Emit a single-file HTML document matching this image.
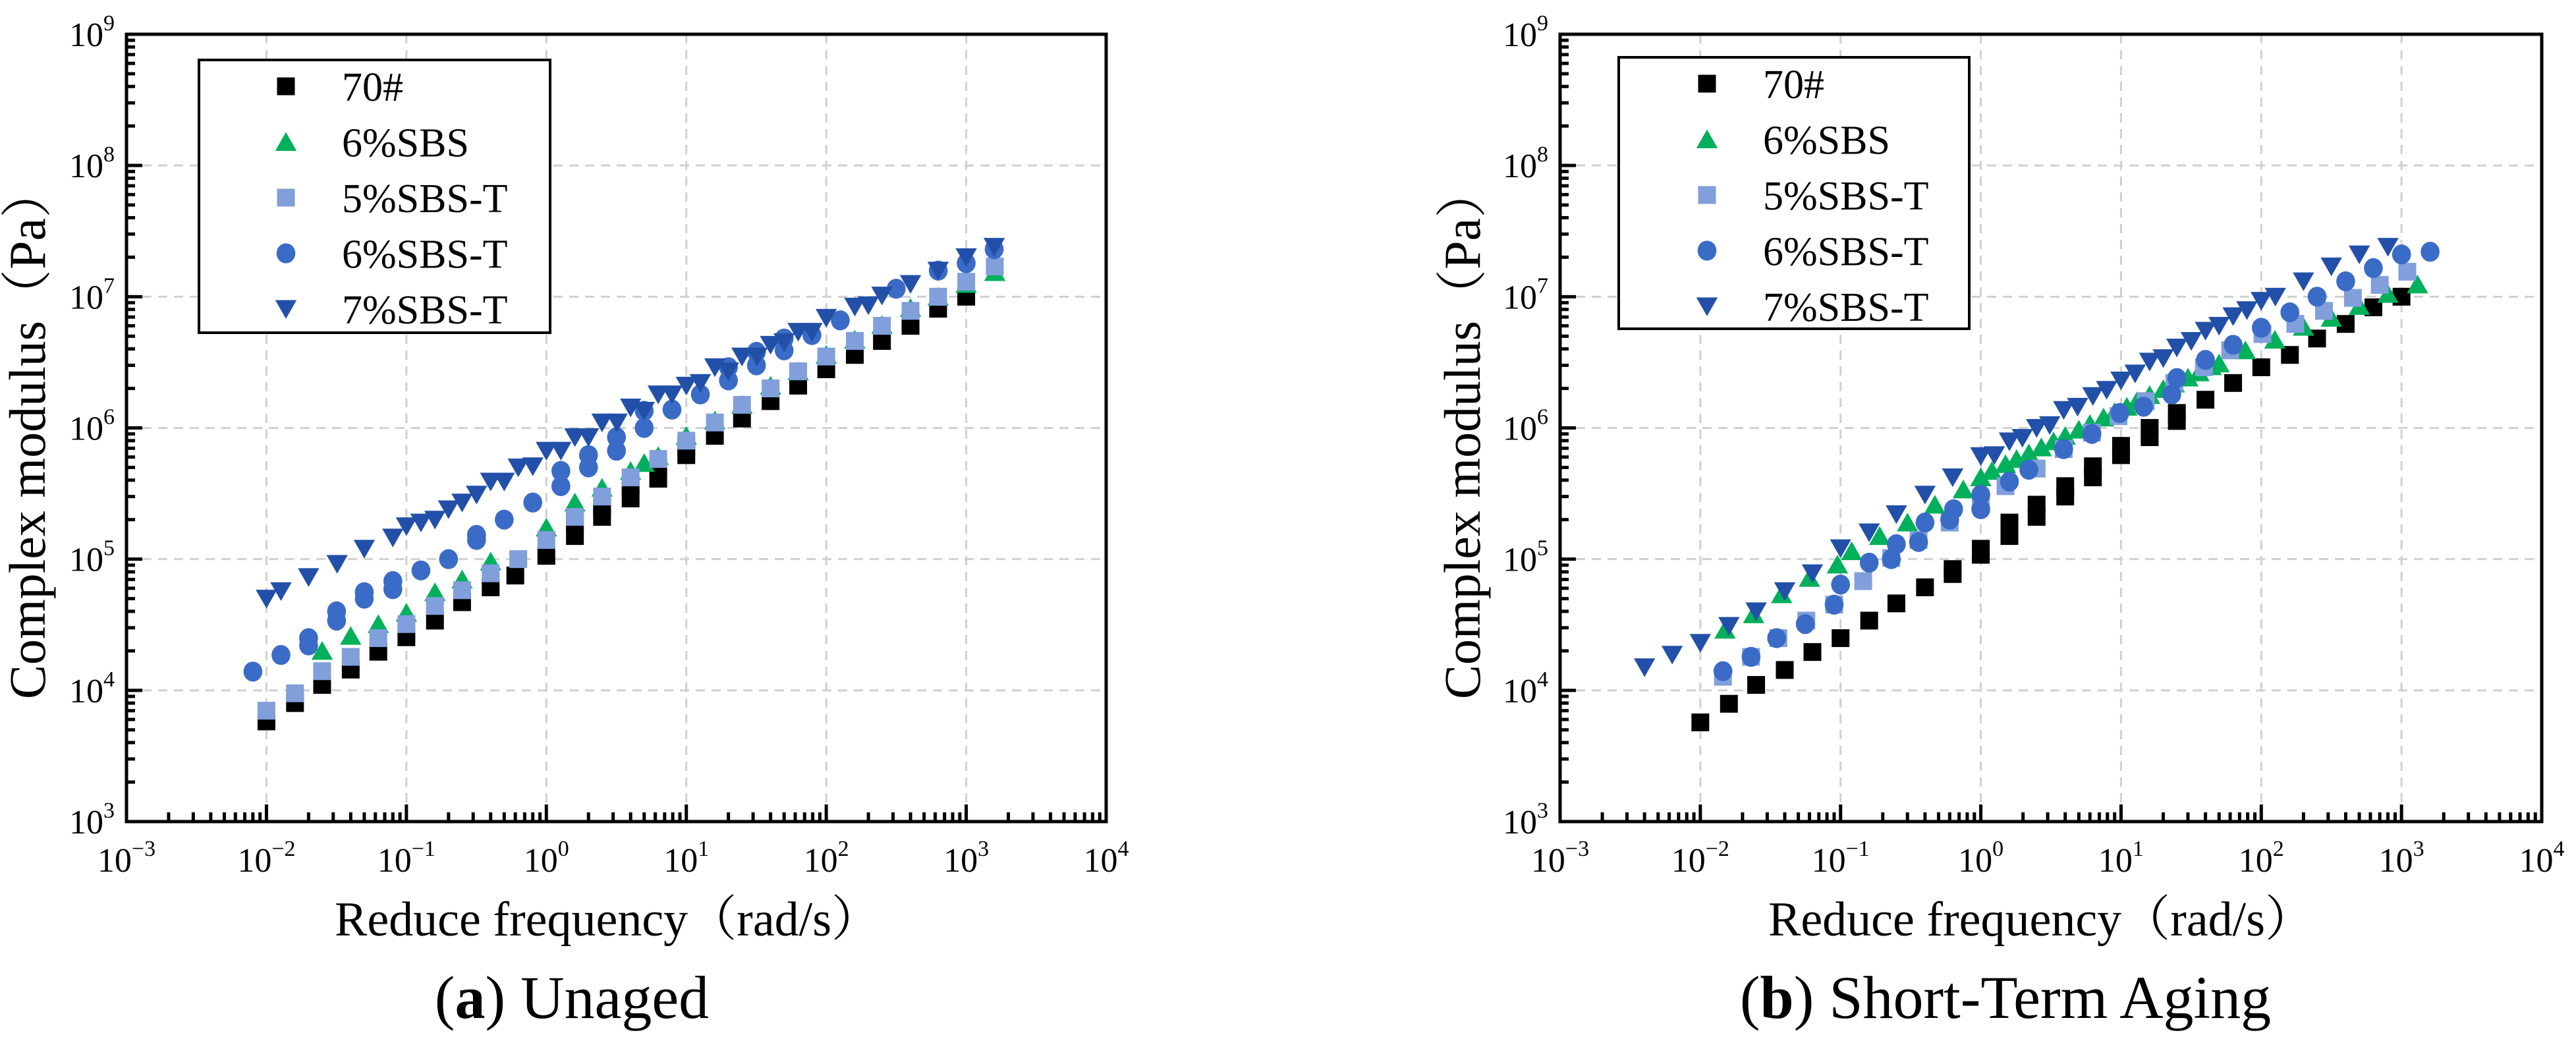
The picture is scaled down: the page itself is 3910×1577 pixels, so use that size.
<!DOCTYPE html>
<html><head><meta charset="utf-8">
<style>
html,body{margin:0;padding:0;background:#fff;}
svg{display:block;}
text{font-family:"Liberation Serif","Noto Serif CJK SC",serif;fill:#000;}
</style></head>
<body>
<svg id="fig" width="3910" height="1577" viewBox="0 0 3910 1577" xmlns="http://www.w3.org/2000/svg">
<g id="panelA"></g>
<g id="panelB"></g>
</svg>
<script>
// ---------- Data ----------
const seriesNames = ["70#","6%SBS","5%SBS-T","6%SBS-T","7%SBS-T"];
const xTickExp = [-3,-2,-1,0,1,2,3,4];
const yTickExp = [3,4,5,6,7,8,9];

// Panel (a) Unaged
const a70x = [0.01,0.016,0.025,0.04,0.063,0.1,0.16,0.25,0.4,0.6,1,1.6,1.6,2.5,2.5,4,4,6.3,6.3,10,10,16,25,40,63,100,160,250,400,400,630,1000];
const a70y = [5.8e3,8.0e3,1.1e4,1.44e4,1.97e4,2.54e4,3.4e4,4.7e4,6.1e4,7.5e4,1.06e5,1.5e5,1.9e5,2.1e5,2.5e5,2.9e5,3.6e5,4.1e5,5.0e5,6.2e5,7.2e5,8.7e5,1.18e6,1.6e6,2.1e6,2.8e6,3.6e6,4.6e6,6.0e6,6.5e6,8.1e6,1.0e7];
const aSBSx = [0.025,0.04,0.063,0.1,0.16,0.25,0.4,1,1.6,2.5,4,5,6.3,10,16,25,40,63,100,160,250,400,630,1000,1600];
const aSBSy = [2.0e4,2.6e4,3.2e4,3.9e4,5.6e4,7.0e4,9.6e4,1.74e5,2.7e5,3.5e5,4.7e5,5.4e5,6.1e5,8.7e5,1.14e6,1.5e6,2.1e6,2.7e6,3.6e6,4.7e6,6.1e6,8.2e6,1.0e7,1.25e7,1.54e7];
const a5Tx = [0.01,0.016,0.025,0.04,0.063,0.1,0.16,0.25,0.4,0.63,1,1.6,2.5,4,6.3,10,16,25,40,63,100,160,250,400,630,1000,1600];
const a5Ty = [7.0e3,9.5e3,1.4e4,1.8e4,2.5e4,3.2e4,4.4e4,5.8e4,7.8e4,1.0e5,1.4e5,2.1e5,3.0e5,4.2e5,5.8e5,8.0e5,1.1e6,1.5e6,2.0e6,2.7e6,3.5e6,4.6e6,6.0e6,7.8e6,1.0e7,1.3e7,1.7e7];
const a6Tx = [0.008,0.0127,0.02,0.02,0.0317,0.0317,0.05,0.05,0.08,0.08,0.127,0.2,0.317,0.317,0.5,0.8,1.27,1.27,2,2,3.17,3.17,5,5,7.9,12.6,20,20,31.7,31.7,50,50,79,126,316,631,1000,1585];
const a6Ty = [1.39e4,1.86e4,2.5e4,2.2e4,4.0e4,3.4e4,5.6e4,5.0e4,6.8e4,5.9e4,8.2e4,1.0e5,1.53e5,1.4e5,2.0e5,2.7e5,4.7e5,3.6e5,6.2e5,5.0e5,8.5e5,6.7e5,1.35e6,1.0e6,1.38e6,1.8e6,2.3e6,2.9e6,3.8e6,3.0e6,4.8e6,3.9e6,5.1e6,6.6e6,1.15e7,1.58e7,1.8e7,2.3e7];
const a7Tx = [0.01,0.0127,0.02,0.032,0.05,0.08,0.1,0.127,0.16,0.2,0.25,0.317,0.4,0.5,0.63,0.8,1,1.27,1.6,2,2.5,3.2,4,5,6.3,7.9,10,12.6,16,20,25,32,40,50,63,79,100,160,200,250,400,630,1000,1585];
const a7Ty = [5.0e4,5.7e4,7.3e4,9.2e4,1.2e5,1.46e5,1.78e5,1.9e5,2.0e5,2.4e5,2.7e5,3.1e5,3.9e5,3.9e5,5.0e5,5.1e5,6.7e5,6.7e5,8.5e5,8.5e5,1.1e6,1.1e6,1.43e6,1.35e6,1.8e6,1.8e6,2.1e6,2.2e6,2.9e6,2.7e6,3.5e6,3.5e6,4.3e6,4.5e6,5.4e6,5.4e6,6.9e6,8.4e6,8.6e6,1.02e7,1.25e7,1.58e7,2.0e7,2.4e7];

// Panel (b) Short-term aging
const b70x = [0.01,0.016,0.025,0.04,0.063,0.1,0.16,0.25,0.4,0.63,0.63,1,1,1.6,1.6,2.5,2.5,4,4,6.3,6.3,10,10,16,16,25,25,40,63,100,160,250,400,630,1000];
const b70y = [5.7e3,7.9e3,1.1e4,1.43e4,1.96e4,2.5e4,3.4e4,4.6e4,6.1e4,7.7e4,8.4e4,1.08e5,1.2e5,1.5e5,1.9e5,2.1e5,2.6e5,3.0e5,3.6e5,4.2e5,5.1e5,6.2e5,7.3e5,8.5e5,1.0e6,1.13e6,1.3e6,1.64e6,2.2e6,2.9e6,3.6e6,4.8e6,6.2e6,8.3e6,1.0e7];
const bSBSx = [0.015,0.024,0.038,0.06,0.095,0.12,0.19,0.3,0.47,0.75,1,1.2,1.5,1.8,2.2,2.7,3.3,4,5,6,7.5,9,11,13,16,20,24,30,36,44,50,77,125,200,316,500,800,1300];
const bSBSy = [2.9e4,3.8e4,5.4e4,7.2e4,9.1e4,1.15e5,1.5e5,1.9e5,2.6e5,3.4e5,4.2e5,4.7e5,5.3e5,5.8e5,6.4e5,7.1e5,7.9e5,8.7e5,9.7e5,1.07e6,1.2e6,1.32e6,1.45e6,1.6e6,1.78e6,1.98e6,2.18e6,2.42e6,2.65e6,2.95e6,3.1e6,3.9e6,4.7e6,5.9e6,6.9e6,8.5e6,1.05e7,1.24e7];
const b5Tx = [0.0145,0.023,0.036,0.057,0.09,0.145,0.23,0.36,0.6,1,1.5,2.5,3.9,6.2,9.6,15,24,39,60,102,175,280,450,700,1100];
const b5Ty = [1.27e4,1.8e4,2.5e4,3.4e4,4.5e4,6.8e4,1.02e5,1.4e5,1.9e5,2.7e5,3.6e5,4.9e5,6.9e5,9.2e5,1.23e6,1.6e6,2.2e6,2.9e6,3.9e6,5.2e6,6.2e6,7.8e6,9.8e6,1.23e7,1.55e7];
const b6Tx = [0.0145,0.023,0.035,0.056,0.09,0.1,0.16,0.23,0.25,0.36,0.4,0.6,0.64,1,1,1.6,2.2,3.9,6.2,9.8,14.5,23,25,40,63,100,160,250,400,630,1000,1600];
const b6Ty = [1.4e4,1.8e4,2.5e4,3.2e4,4.5e4,6.4e4,9.4e4,1.0e5,1.3e5,1.35e5,1.9e5,2.0e5,2.4e5,2.4e5,3.1e5,3.9e5,4.8e5,6.9e5,9.0e5,1.3e6,1.45e6,1.8e6,2.4e6,3.3e6,4.3e6,5.8e6,7.6e6,1.0e7,1.31e7,1.65e7,2.1e7,2.2e7];
const b7Tx = [0.004,0.0063,0.01,0.016,0.025,0.04,0.063,0.1,0.16,0.25,0.4,0.63,1,1.25,1.6,1.98,2.5,3.1,3.9,4.9,6.3,7.9,10,12.6,16,20,25,31.7,40,50,63,79,100,126,200,316,500,800];
const b7Ty = [1.5e4,1.87e4,2.3e4,3.1e4,4.0e4,5.7e4,7.8e4,1.21e5,1.6e5,2.2e5,3.1e5,4.2e5,6.1e5,6.2e5,7.9e5,8.4e5,1.0e6,1.05e6,1.37e6,1.45e6,1.75e6,1.95e6,2.3e6,2.6e6,3.2e6,3.4e6,4.1e6,4.6e6,5.5e6,6.0e6,7.1e6,7.9e6,9.3e6,1.0e7,1.31e7,1.7e7,2.1e7,2.4e7];

// ---------- Drawing ----------
const NS = "http://www.w3.org/2000/svg";
const colors = ["#000000","#00b05a","#809fdb","#3a6bc6","#2250a8"];
const shapes = ["square","triangle","square","circle","invtriangle"];

function mk(tag, attrs, parent){
  const e = document.createElementNS(NS, tag);
  for (const k in attrs) e.setAttribute(k, attrs[k]);
  parent.appendChild(e);
  return e;
}
function drawMarker(g, shape, cx, cy, color, s){
  let e;
  if (shape === "square") e = mk("rect",{x:cx-s/2,y:cy-s/2,width:s,height:s,fill:color},g);
  else if (shape === "circle") e = mk("ellipse",{cx:cx,cy:cy,rx:s*0.53,ry:s*0.56,fill:color},g);
  else if (shape === "triangle") e = mk("polygon",{points:`${cx-s*0.6},${cy+s*0.5} ${cx+s*0.6},${cy+s*0.5} ${cx},${cy-s*0.55}`,fill:color},g);
  else e = mk("polygon",{points:`${cx-s*0.6},${cy-s*0.5} ${cx+s*0.6},${cy-s*0.5} ${cx},${cy+s*0.55}`,fill:color},g);
  return e;
}

function drawPanel(root, cfg, data){
  const {x0,x1,y0,y1} = cfg;
  const xs = v => x0 + (Math.log10(v) - (-3)) / 7 * (x1 - x0);
  const ys = v => y1 - (Math.log10(v) - 3) / 6 * (y1 - y0);

  const grid = mk("g",{},root);
  
  
  xTickExp.slice(1,-1).forEach(e=>{
    const x = xs(Math.pow(10,e));
    mk("line",{x1:x,x2:x,y1:y0,y2:y1,stroke:"#d0d0d0","stroke-width":3,"stroke-dasharray":"14 10"},grid);
  });
  yTickExp.slice(1,-1).forEach(e=>{
    const y = ys(Math.pow(10,e));
    mk("line",{x1:x0,x2:x1,y1:y,y2:y,stroke:"#d0d0d0","stroke-width":3,"stroke-dasharray":"14 10"},grid);
  });

  data.forEach((sd, si)=>{
    const g = mk("g",{},root);
    
    
    sd.x.forEach((xv,i)=>{
      const m = drawMarker(g, shapes[si], xs(xv), ys(sd.y[i]), colors[si], 27);
      
      
    });
  });

  const ticks = mk("g",{stroke:"#000","stroke-width":5},root);
  
  
  for (let e=-3;e<4;e++){
    for (let m=1;m<10;m++){
      const x = xs(m*Math.pow(10,e));
      const L = m===1?26:14;
      if (m===1 && e===-3) continue;
      mk("line",{x1:x,x2:x,y1:y1,y2:y1-L},ticks);
    }
  }
  for (let e=3;e<9;e++){
    for (let m=1;m<10;m++){
      const y = ys(m*Math.pow(10,e));
      const L = m===1?24:13;
      if (m===1 && e===3) continue;
      mk("line",{x1:x0,x2:x0+L,y1:y,y2:y},ticks);
    }
  }

  const fr = mk("rect",{x:x0,y:y0,width:x1-x0,height:y1-y0,fill:"none",stroke:"#000","stroke-width":5},root);
  
  

  xTickExp.forEach(e=>{
    const t = mk("text",{x:xs(Math.pow(10,e)),y:y1+76,"font-size":52,"text-anchor":"middle"},root);
    
    
    t.textContent = "10";
    const sup = mk("tspan",{"font-size":34,dy:-24},t);
    sup.textContent = e<0 ? "\u2212"+(-e) : String(e);
  });
  yTickExp.forEach(e=>{
    const t = mk("text",{x:x0-18,y:ys(Math.pow(10,e))+18,"font-size":52,"text-anchor":"end"},root);
    
    
    t.textContent = "10";
    const sup = mk("tspan",{"font-size":34,dy:-24},t);
    sup.textContent = String(e);
  });

  const xt = mk("text",{x:cfg.xtX,y:1420,"font-size":74,"text-anchor":"middle"},root);
  
  
  xt.textContent = "Reduce frequency\uFF08rad/s\uFF09";
  const yt = mk("text",{transform:`translate(${cfg.ytX},657) rotate(-90)`,"font-size":78,"text-anchor":"middle"},root);
  
  
  yt.textContent = "Complex modulus\uFF08Pa\uFF09";

  const lg = mk("g",{},root);
  
  
  mk("rect",{x:cfg.lx,y:cfg.ly,width:cfg.lw,height:cfg.lh,fill:"#fff",stroke:"#000","stroke-width":4},lg);
  seriesNames.forEach((nm,i)=>{
    const ent = mk("g",{},lg);
    
    
    const cy = cfg.ly + 40 + i*84.5;
    drawMarker(ent, shapes[i], cfg.mx, cy, colors[i], 27);
    const t = mk("text",{x:cfg.tx,y:cy+22,"font-size":62},ent);
    t.textContent = nm;
  });

  const cap = mk("text",{x:cfg.capX,y:1545,"font-size":92,"text-anchor":"middle"},root);
  
  
  const t1 = mk("tspan",{},cap); t1.textContent = "(";
  const t2 = mk("tspan",{"font-weight":"bold"},cap); t2.textContent = cfg.letter;
  const t3 = mk("tspan",{},cap); t3.textContent = ") " + cfg.caption;
}

drawPanel(document.getElementById("panelA"),
  {x0:192,x1:1679,y0:52,y1:1247,xtX:922,ytX:68,lx:302,ly:91,lw:533,lh:414,mx:434,tx:519,capX:868,letter:"a",caption:"Unaged"},
  [{x:a70x,y:a70y},{x:aSBSx,y:aSBSy},{x:a5Tx,y:a5Ty},{x:a6Tx,y:a6Ty},{x:a7Tx,y:a7Ty}]);
drawPanel(document.getElementById("panelB"),
  {x0:2368,x1:3858,y0:52,y1:1247,xtX:3098,ytX:2246,lx:2457,ly:87,lw:532,lh:412,mx:2591,tx:2676,capX:3044,letter:"b",caption:"Short-Term Aging"},
  [{x:b70x,y:b70y},{x:bSBSx,y:bSBSy},{x:b5Tx,y:b5Ty},{x:b6Tx,y:b6Ty},{x:b7Tx,y:b7Ty}]);
</script>
</body></html>
